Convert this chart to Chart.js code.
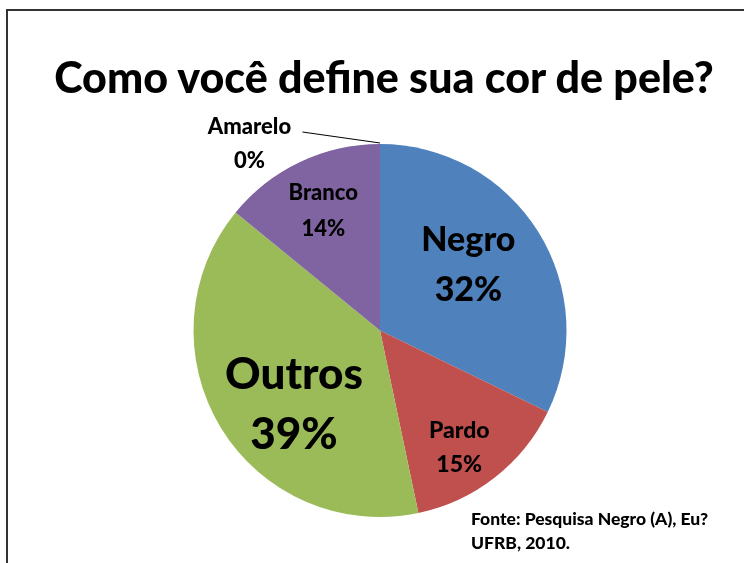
<!DOCTYPE html>
<html>
<head>
<meta charset="utf-8">
<script src="https://cdn.jsdelivr.net/npm/chart.js@4.4.1/dist/chart.umd.min.js"></script>
<style>
  html, body { margin:0; padding:0; background:#fff; }
  #wrap { position:relative; width:744px; height:563px; overflow:hidden; background:#fff; }
  #frame { position:absolute; left:6px; top:9px; width:760px; height:600px; border-top:2px solid #333; border-left:2px solid #333; box-sizing:border-box; }
  #c { position:absolute; left:0; top:0; }
  #title { position:absolute; left:0; width:768px; top:51px; text-align:center; font-family:Lato, sans-serif; font-weight:900; font-size:43px; color:#000; white-space:nowrap; }
  #source { position:absolute; left:471px; top:507px; font-family:Lato, sans-serif; font-weight:900; font-size:17.5px; line-height:24px; color:#000; white-space:nowrap; }
</style>
</head>
<body>
<div id="wrap">
  <div id="frame"></div>
  <canvas id="c" width="744" height="563"></canvas>
  <div id="title">Como você define sua cor de pele?</div>
  <div id="source">Fonte: Pesquisa Negro (A), Eu?<br>UFRB, 2010.</div>
</div>
<script>
const categories = ['Negro', 'Pardo', 'Outros', 'Branco', 'Amarelo'];
const values = [32.2, 14.5, 39.2, 14.1, 0];
const percentLabels = ['32%', '15%', '39%', '14%', '0%'];
const colors = ['#4F81BD', '#C0504D', '#9BBB59', '#8064A2', '#4BACC6'];

// label styling (position factors along slice radius, angle shift in degrees, font size, line gap)
const labelRadius = [0.59, 0.76, 0.61, 0.71];
const labelShift = [-4.5, 4, -9.6, 0];
const labelSize = [34, 23, 44, 22];
const labelGap = [50, 34, 60, 36];

const labelPlugin = {
  id: 'sliceLabels',
  afterDatasetsDraw(chart) {
    const ctx = chart.ctx;
    const meta = chart.getDatasetMeta(0);
    ctx.save();
    ctx.fillStyle = '#000';
    ctx.textAlign = 'center';
    ctx.textBaseline = 'middle';
    meta.data.forEach((arc, i) => {
      const p = arc.getProps(['x', 'y', 'startAngle', 'endAngle', 'outerRadius'], true);
      if (i < 4) {
        const mid = (p.startAngle + p.endAngle) / 2 + labelShift[i] * Math.PI / 180;
        const r = p.outerRadius * labelRadius[i];
        const cx = p.x + Math.cos(mid) * r;
        const cy = p.y + Math.sin(mid) * r;
        ctx.font = '900 ' + labelSize[i] + 'px Lato, sans-serif';
        ctx.fillText(categories[i], cx, cy - labelGap[i] / 2);
        ctx.fillText(percentLabels[i], cx, cy + labelGap[i] / 2);
      } else {
        // outside label with leader line
        const ax = p.x + Math.cos(p.startAngle) * p.outerRadius;
        const ay = p.y + Math.sin(p.startAngle) * p.outerRadius;
        const tx = p.x - p.outerRadius * 0.7;
        const ty = p.y - p.outerRadius * 1.0;
        ctx.font = '900 22px Lato, sans-serif';
        ctx.fillText(categories[i], tx, ty - 17);
        ctx.fillText(percentLabels[i], tx, ty + 17);
        ctx.strokeStyle = '#000';
        ctx.lineWidth = 1;
        ctx.beginPath();
        ctx.moveTo(tx + 53, ty - 12);
        ctx.lineTo(ax, ay - 1);
        ctx.stroke();
      }
    });
    ctx.restore();
  }
};

new Chart(document.getElementById('c'), {
  type: 'pie',
  data: {
    labels: categories,
    datasets: [{
      data: values,
      backgroundColor: colors,
      borderWidth: 0
    }]
  },
  options: {
    responsive: false,
    animation: false,
    layout: { padding: { top: 144, bottom: 46, left: 16, right: 0 } },
    plugins: { legend: { display: false }, tooltip: { enabled: false }, title: { display: false } }
  },
  plugins: [labelPlugin]
});
</script>
</body>
</html>
